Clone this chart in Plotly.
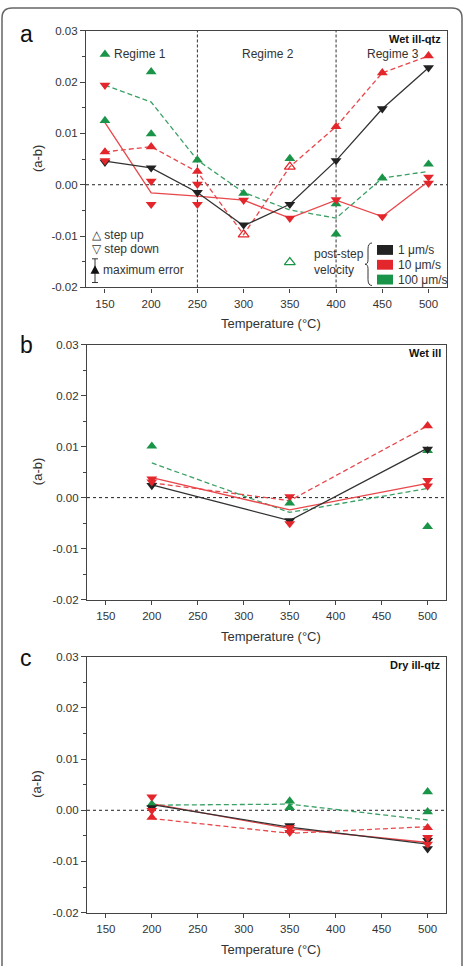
import plotly.graph_objects as go

W, H = 465, 966
FONT = "Liberation Sans, Arial, sans-serif"
TXT = "#333333"
BLACK = "#222222"
RED = "#e3262b"
RED_L = "#e8474b"
GREEN = "#1a9448"
GREEN_L = "#3aa066"

# ---------------- Panel a: Wet ill-qtz ----------------
A_T = [150, 200, 250, 300, 350, 400, 450, 500]
A_BLACK_LINE = [0.0046, 0.0033, -0.0015, -0.0080, -0.0038, 0.0047, 0.0148, 0.0228]
A_RED_SOLID = [0.0121, -0.0016, -0.0022, -0.0030, -0.0065, -0.0030, -0.0062, 0.0007]
A_RED_DASH = [0.0064, 0.0074, 0.0025, -0.0097, 0.0035, 0.0113, 0.0218, 0.0251]
A_GREEN_DASH = [0.0194, 0.0161, 0.0048, -0.0015, -0.0049, -0.0065, 0.0013, 0.0026]

A_BLACK_DN_T = [150, 200, 250, 300, 350, 400, 450, 500]
A_BLACK_DN_V = [0.0044, 0.0033, -0.0015, -0.0078, -0.0038, 0.0047, 0.0148, 0.0228]
A_RED_DN_T = [150, 150, 200, 200, 250, 250, 300, 350, 400, 450, 500, 500]
A_RED_DN_V = [0.0194, 0.0047, 0.0007, -0.0038, 0.0001, -0.0038, -0.0030, -0.0065, -0.0029, -0.0062, 0.0015, 0.0003]
A_RED_UP_T = [150, 200, 250, 400, 450, 500]
A_RED_UP_V = [0.0064, 0.0074, 0.0026, 0.0113, 0.0218, 0.0251]
A_RED_OPEN_T = [300, 350]
A_RED_OPEN_V = [-0.0097, 0.0035]
A_GREEN_UP_T = [150, 150, 200, 200, 250, 300, 350, 400, 400, 450, 500]
A_GREEN_UP_V = [0.0254, 0.0125, 0.0220, 0.0099, 0.0048, -0.0017, 0.0051, -0.0037, -0.0096, 0.0013, 0.0040]
A_GREEN_OPEN_T = [350]
A_GREEN_OPEN_V = [-0.0151]

# ---------------- Panel b: Wet ill ----------------
B_T = [200, 350, 500]
B_BLACK_LINE = [0.0025, -0.0045, 0.0097]
B_RED_SOLID = [0.0039, -0.0024, 0.0028]
B_RED_DASH = [0.0029, -0.0006, 0.0141]
B_GREEN_DASH = [0.0068, -0.0029, 0.0018]

B_BLACK_DN_T = [200, 350, 500]
B_BLACK_DN_V = [0.0024, -0.0045, 0.0095]
B_RED_DN_T = [200, 200, 350, 350, 500, 500]
B_RED_DN_V = [0.0037, 0.0031, 0.0002, -0.0051, 0.0034, 0.0023]
B_RED_UP_T = [500]
B_RED_UP_V = [0.0141]
B_GREEN_UP_T = [200, 350, 500, 500]
B_GREEN_UP_V = [0.0101, -0.0011, 0.0092, -0.0057]

# ---------------- Panel c: Dry ill-qtz ----------------
C_T = [200, 350, 500]
C_BLACK_LINE = [0.0011, -0.0033, -0.0066]
C_RED_SOLID = [0.0013, -0.0036, -0.0063]
C_RED_DASH = [-0.0016, -0.0045, -0.0032]
C_GREEN_DASH = [0.0010, 0.0012, -0.0019]

C_BLACK_DN_T = [200, 350, 500, 500]
C_BLACK_DN_V = [0.0005, -0.0030, -0.0059, -0.0075]
C_RED_DN_T = [200, 200, 350, 350, 500, 500]
C_RED_DN_V = [0.0026, 0.0000, -0.0034, -0.0043, -0.0053, -0.0066]
C_RED_UP_T = [200, 350, 500]
C_RED_UP_V = [-0.0014, -0.0040, -0.0034]
C_GREEN_UP_T = [200, 350, 350, 500, 500]
C_GREEN_UP_V = [0.0012, 0.0018, 0.0005, 0.0036, -0.0003]

Y_TICKS = [-0.02, -0.01, 0.0, 0.01, 0.02, 0.03]
Y_TICKTEXT = ["-0.02", "-0.01", "0.00", "0.01", "0.02", "0.03"]
X_TICKS = [150, 200, 250, 300, 350, 400, 450, 500]

fig = go.Figure()

def px(x):
    return x / W

def py(y):
    return 1 - y / H

def add_panel(n, T, blk, rs, rd, gd, bdt, bdv, rdt, rdv, rut, ruv, gut, guv,
              rot=None, rov=None, got=None, gov=None):
    xa = "x" if n == 1 else f"x{n}"
    ya = "y" if n == 1 else f"y{n}"
    ln = lambda y, c, d: go.Scatter(x=T, y=y, mode="lines", xaxis=xa, yaxis=ya,
                                     line=dict(color=c, width=1.3, dash=d),
                                     hoverinfo="skip", showlegend=False)
    fig.add_trace(ln(gd, GREEN_L, "5px,3px"))
    fig.add_trace(ln(rd, RED_L, "5px,3px"))
    fig.add_trace(ln(rs, RED_L, "solid"))
    fig.add_trace(ln(blk, "#333333", "solid"))
    mk = lambda xs, ys, sym, c: go.Scatter(x=xs, y=ys, mode="markers", xaxis=xa, yaxis=ya,
                                            marker=dict(symbol=sym, size=9.5, color=c,
                                                        line=dict(width=0 if "open" not in sym else 1.2, color=c)),
                                            hoverinfo="skip", showlegend=False)
    fig.add_trace(mk(gut, guv, "triangle-up", GREEN))
    fig.add_trace(mk(rut, ruv, "triangle-up", RED))
    fig.add_trace(mk(bdt, bdv, "triangle-down", BLACK))
    fig.add_trace(mk(rdt, rdv, "triangle-down", RED))
    if rot:
        fig.add_trace(mk(rot, rov, "triangle-up-open", RED))
    if got:
        fig.add_trace(mk(got, gov, "triangle-up-open", GREEN))

add_panel(1, A_T, A_BLACK_LINE, A_RED_SOLID, A_RED_DASH, A_GREEN_DASH,
          A_BLACK_DN_T, A_BLACK_DN_V, A_RED_DN_T, A_RED_DN_V, A_RED_UP_T, A_RED_UP_V,
          A_GREEN_UP_T, A_GREEN_UP_V, A_RED_OPEN_T, A_RED_OPEN_V, A_GREEN_OPEN_T, A_GREEN_OPEN_V)
add_panel(2, B_T, B_BLACK_LINE, B_RED_SOLID, B_RED_DASH, B_GREEN_DASH,
          B_BLACK_DN_T, B_BLACK_DN_V, B_RED_DN_T, B_RED_DN_V, B_RED_UP_T, B_RED_UP_V,
          B_GREEN_UP_T, B_GREEN_UP_V)
add_panel(3, C_T, C_BLACK_LINE, C_RED_SOLID, C_RED_DASH, C_GREEN_DASH,
          C_BLACK_DN_T, C_BLACK_DN_V, C_RED_DN_T, C_RED_DN_V, C_RED_UP_T, C_RED_UP_V,
          C_GREEN_UP_T, C_GREEN_UP_V)

# panel pixel boxes (left, right, top, bottom)
BOXES = [(86, 447, 25, 285), (87, 446, 343, 601), (87, 446, 659, 918)]

layout = dict(width=W, height=H, margin=dict(l=0, r=0, t=0, b=0),
              paper_bgcolor="white", plot_bgcolor="white",
              font=dict(family=FONT, color=TXT, size=11), showlegend=False)
for i, (l, r, t, b) in enumerate(BOXES, start=1):
    xk = "xaxis" if i == 1 else f"xaxis{i}"
    yk = "yaxis" if i == 1 else f"yaxis{i}"
    yname = "y" if i == 1 else f"y{i}"
    xname = "x" if i == 1 else f"x{i}"
    layout[xk] = dict(domain=[px(l), px(r)], anchor=yname, range=[129.5, 520],
                      tickvals=X_TICKS, ticks="outside", ticklen=4, tickcolor="#444",
                      showline=True, linecolor="#444", linewidth=1.2, mirror=True,
                      showgrid=False, zeroline=False, tickfont=dict(size=11.5, color=TXT),
                      ticklabelstandoff=2, fixedrange=True)
    layout[yk] = dict(domain=[py(b), py(t)], anchor=xname, range=[-0.02, 0.03],
                      tickvals=Y_TICKS, ticktext=Y_TICKTEXT, ticks="outside", ticklen=5,
                      tickcolor="#444", showline=True, linecolor="#444", linewidth=1.2,
                      mirror=True, showgrid=False, zeroline=False,
                      tickfont=dict(size=11.5, color=TXT),
                      minor=dict(dtick=0.005, ticks="outside", ticklen=3, tickcolor="#444"),
                      fixedrange=True)
fig.update_layout(**layout)

shapes = []
ann = []
# zero dotted lines and axis titles
for i, (l, r, t, b) in enumerate(BOXES, start=1):
    xname = "x" if i == 1 else f"x{i}"
    yname = "y" if i == 1 else f"y{i}"
    shapes.append(dict(type="line", xref=f"{xname} domain", yref=yname, x0=0, x1=1, y0=0, y1=0,
                       line=dict(color="#222", width=1, dash="dot"), layer="below"))
    ann.append(dict(text="Temperature (°C)", xref="paper", yref="paper",
                    x=px((l + r) / 2 + 4), y=py(b + 37), showarrow=False,
                    font=dict(size=13, color=TXT), xanchor="center", yanchor="middle"))
    ann.append(dict(text="(a-b)", xref="paper", yref="paper", x=px(37), y=py((t + b) / 2),
                    showarrow=False, textangle=-90, font=dict(size=13, color=TXT),
                    xanchor="center", yanchor="middle"))

# vertical dashed regime lines in panel a
for xv in [250, 400]:
    shapes.append(dict(type="line", xref="x", yref="y domain", x0=xv, x1=xv, y0=0, y1=1,
                       line=dict(color="#333", width=1, dash="3px,2px"), layer="below"))

# panel letters & labels
for letter, yy in [("a", 28), ("b", 343), ("c", 660)]:
    ann.append(dict(text=letter, xref="paper", yref="paper", x=px(26), y=py(yy), showarrow=False,
                    font=dict(size=23, color="#111"), xanchor="center", yanchor="middle"))
for lab, yy in [("Wet ill-qtz", 33), ("Wet ill", 351), ("Dry ill-qtz", 667)]:
    ann.append(dict(text=f"<b>{lab}</b>", xref="paper", yref="paper", x=px(443), y=py(yy),
                    showarrow=False, font=dict(size=11, color="#111"),
                    xanchor="right", yanchor="middle"))

# regime labels
ann.append(dict(text="Regime 1", xref="paper", yref="paper", x=px(112), y=py(49), showarrow=False,
                font=dict(size=12, color=TXT), xanchor="left", yanchor="middle"))
ann.append(dict(text="Regime 2", xref="paper", yref="paper", x=px(268), y=py(49), showarrow=False,
                font=dict(size=12, color=TXT), xanchor="center", yanchor="middle"))
ann.append(dict(text="Regime 3", xref="paper", yref="paper", x=px(393), y=py(49), showarrow=False,
                font=dict(size=12, color=TXT), xanchor="center", yanchor="middle"))

# step up / step down legend
ann.append(dict(text="△ step up", xref="paper", yref="paper", x=px(90), y=py(232), showarrow=False,
                font=dict(size=12, color=TXT), xanchor="left", yanchor="middle"))
ann.append(dict(text="▽ step down", xref="paper", yref="paper", x=px(90), y=py(246), showarrow=False,
                font=dict(size=12, color=TXT), xanchor="left", yanchor="middle"))
ann.append(dict(text="maximum error", xref="paper", yref="paper", x=px(101), y=py(267), showarrow=False,
                font=dict(size=12, color=TXT), xanchor="left", yanchor="middle"))
# error bar sample
shapes.append(dict(type="line", xref="paper", yref="paper", x0=px(95), x1=px(95), y0=py(256), y1=py(280),
                   line=dict(color="#333", width=1)))
for yy in [256, 280]:
    shapes.append(dict(type="line", xref="paper", yref="paper", x0=px(92), x1=px(98), y0=py(yy), y1=py(yy),
                       line=dict(color="#333", width=1)))
shapes.append(dict(type="path", xref="paper", yref="paper",
                   path=f"M {px(95)},{py(262.5)} L {px(99.5)},{py(271)} L {px(90.5)},{py(271)} Z",
                   fillcolor="#111", line=dict(width=0)))

# velocity legend
for (yy, col, lab) in [(247, BLACK, "1 μm/s"), (262, RED, "10 μm/s"), (277, GREEN, "100 μm/s")]:
    shapes.append(dict(type="rect", xref="paper", yref="paper", x0=px(377), x1=px(393),
                       y0=py(yy + 5), y1=py(yy - 5), fillcolor=col, line=dict(width=0)))
    ann.append(dict(text=lab, xref="paper", yref="paper", x=px(396), y=py(yy), showarrow=False,
                    font=dict(size=12, color=TXT), xanchor="left", yanchor="middle"))
ann.append(dict(text="post-step<br>velocity", xref="paper", yref="paper", x=px(312), y=py(259),
                showarrow=False, align="left", font=dict(size=12, color=TXT),
                xanchor="left", yanchor="middle"))
# curly brace
bp = [(372, 240), (368, 240), (368, 246), (368, 257), (368, 261.5), (365, 261.5), (368, 261.5),
      (368, 266), (368, 277), (368, 283), (372, 283)]
bpp = [(px(a), py(b)) for a, b in bp]
path = (f"M {bpp[0][0]},{bpp[0][1]} Q {bpp[1][0]},{bpp[1][1]} {bpp[2][0]},{bpp[2][1]} "
        f"L {bpp[3][0]},{bpp[3][1]} Q {bpp[4][0]},{bpp[4][1]} {bpp[5][0]},{bpp[5][1]} "
        f"Q {bpp[6][0]},{bpp[6][1]} {bpp[7][0]},{bpp[7][1]} L {bpp[8][0]},{bpp[8][1]} "
        f"Q {bpp[9][0]},{bpp[9][1]} {bpp[10][0]},{bpp[10][1]}")
shapes.append(dict(type="path", xref="paper", yref="paper", path=path, line=dict(color="#333", width=1)))

# outer rounded frame
r = 10
x0, x1, y0, y1 = 2, 462, 2, 1000
fp = (f"M {px(x0)},{py(y1)} L {px(x0)},{py(y0 + r)} Q {px(x0)},{py(y0)} {px(x0 + r)},{py(y0)} "
      f"L {px(x1 - r)},{py(y0)} Q {px(x1)},{py(y0)} {px(x1)},{py(y0 + r)} L {px(x1)},{py(y1)}")
shapes.append(dict(type="path", xref="paper", yref="paper", path=fp, line=dict(color="#666", width=1.5)))

fig.update_layout(shapes=shapes, annotations=ann)
fig.write_html("out.html")
